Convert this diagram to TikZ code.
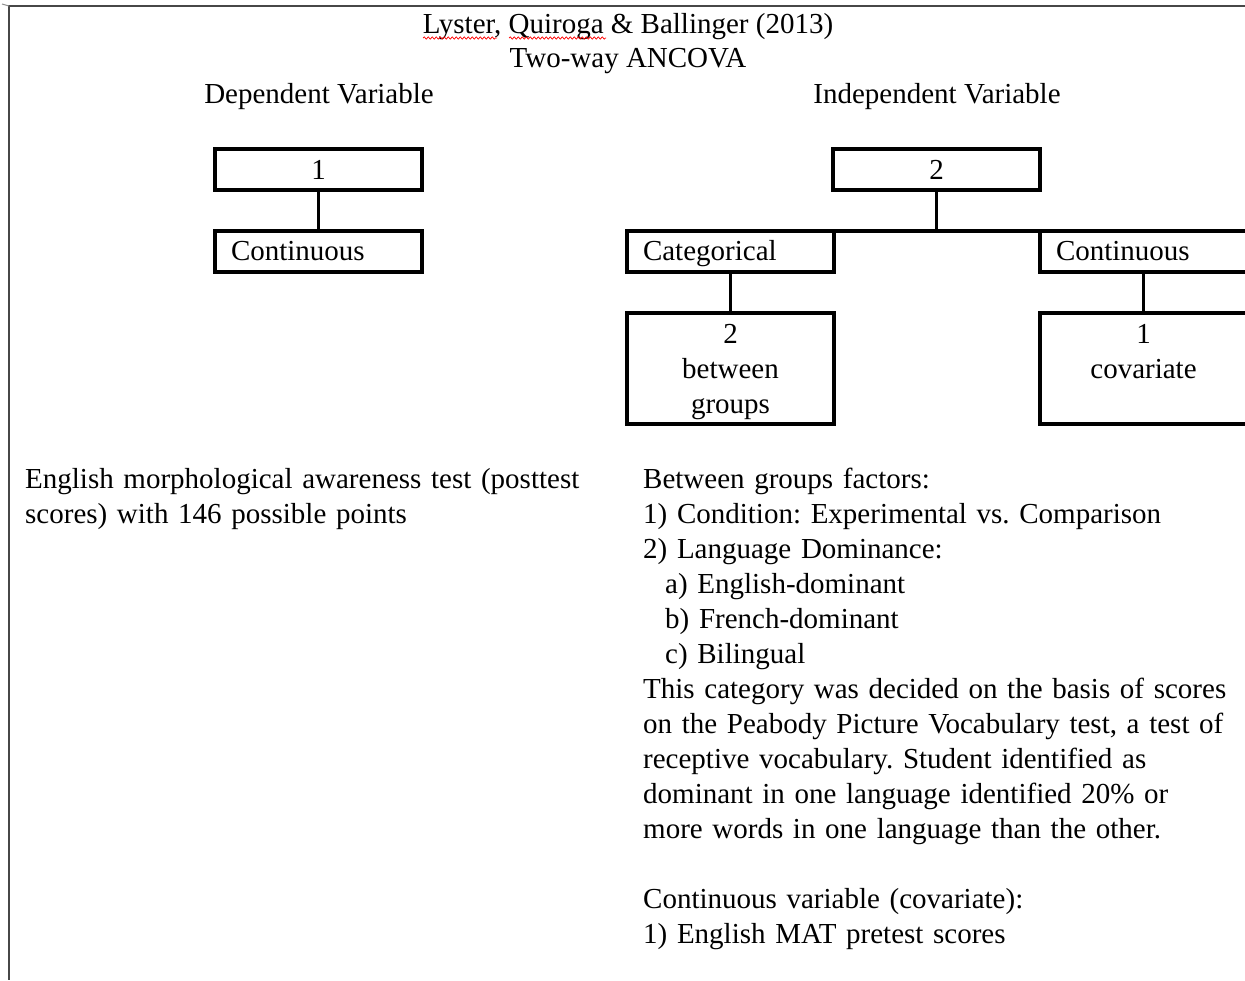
\documentclass[tikz,border=0pt]{standalone}
\usepackage{fontspec}
\setmainfont{Liberation Serif}
\usetikzlibrary{decorations.pathmorphing}
\frenchspacing
\begin{document}
\begin{tikzpicture}[x=1pt,y=-1pt,
  every node/.style={font=\fontsize{29}{35}\selectfont\frenchspacing, text=black, inner sep=0pt},
  box/.style={draw=black, line width=3.5pt, inner sep=0pt, outer sep=0pt, minimum width=207pt, minimum height=41pt},
  lbox/.style={box, text width=175pt, inner xsep=16pt, align=left, text height=20pt, text depth=2pt},
  tallbox/.style={box, minimum height=111pt, align=center},
  link/.style={draw=black, line width=3.5pt},
  para/.style={text width=610pt, align=left, anchor=base west},
  frame/.style={draw=black!72, line width=2.2pt},
  spell/.style={draw=red, line width=0.7pt, decorate, decoration={snake, amplitude=1.1pt, segment length=4pt}}
]
\useasboundingbox (0,0) rectangle (1245,980);
\begin{scope}
\clip (0,0) rectangle (1245,980);
% frame
\coordinate (ftl) at (9,6);
\coordinate (ftr) at (1245,6);
\coordinate (fbl) at (9,980);
\coordinate (tick) at (2,4);
\draw[frame] (ftr) -- (ftl) -- (fbl);
\draw[draw=black!45, line width=1pt] (tick) -- (ftl);

% titles
\node[anchor=base] (t1) at (628,33) {Lyster, Quiroga \& Ballinger (2013)};
\node[anchor=base] (t2) at (628,67) {Two-way ANCOVA};
\coordinate (s1a) at (423,38); \coordinate (s1b) at (497,38);
\coordinate (s2a) at (509,38); \coordinate (s2b) at (606,38);
\draw[spell] (s1a) -- (s1b);
\draw[spell] (s2a) -- (s2b);
\node[anchor=base] (dv) at (319,103) {Dependent Variable};
\node[anchor=base] (iv) at (937,103) {Independent Variable};

% left tree
\node[box] (b1) at (318.5,169.5) {1};
\node[lbox] (c1) at (318.5,251.5) {Continuous};
\draw[link] (b1.south) -- (c1.north);

% right tree
\node[box] (b2) at (936.5,169.5) {2};
\node[lbox] (cat) at (730.5,251.5) {Categorical};
\node[lbox] (cont) at (1143.5,251.5) {Continuous};
\draw[link] (b2.south) -- (b2.south |- cat.north);
\draw[link] (cat.north east) -- (cont.north west);
\node[tallbox] (bg) at (730.5,368.5) {\rule{0pt}{26pt}2\\between\\groups};
\node[tallbox] (cov) at (1143.5,368.5) {\rule{0pt}{26pt}1\\covariate\\\phantom{groups}};
\draw[link] (cat.south) -- (bg.north);
\draw[link] (cont.south) -- (cov.north);

% paragraphs
\node[para] (lp) at (25,488) {English morphological awareness test (posttest\\scores) with 146 possible points};
\node[para] (rp) at (643,488) {Between groups factors:\\
1) Condition: Experimental vs. Comparison\\
2) Language Dominance:\\
\hspace*{22pt}a) English-dominant\\
\hspace*{22pt}b) French-dominant\\
\hspace*{22pt}c) Bilingual\\
This category was decided on the basis of scores\\
on the Peabody Picture Vocabulary test, a test of\\
receptive vocabulary. Student identified as\\
dominant in one language identified 20\% or\\
more words in one language than the other.\\[35pt]
Continuous variable (covariate):\\
1) English MAT pretest scores};
\end{scope}
\end{tikzpicture}
\end{document}
